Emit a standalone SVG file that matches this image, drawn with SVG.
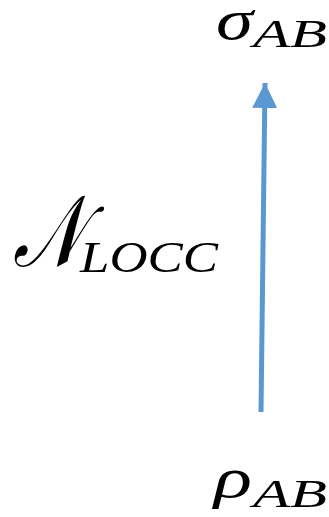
<svg xmlns="http://www.w3.org/2000/svg" width="329" height="517" viewBox="0 0 329 517">
<style>
.t{font-family:"Liberation Serif","DejaVu Serif",serif;font-style:italic;fill:#000}
.big{font-size:56px}
.sub{font-size:39px}
.conn{stroke:#5b98d2;stroke-width:5;fill:none}
</style>
<defs>
<marker id="ah" viewBox="0 0 10 10" refX="10" refY="5" markerWidth="5" markerHeight="5" orient="auto" markerUnits="strokeWidth">
<path d="M0,0 L10,5 L0,10 z" fill="#5b98d2"/>
</marker>
</defs>
<rect width="329" height="517" fill="#fff"/>
<g id="connectors">
<line class="conn" x1="261" y1="412" x2="265" y2="83" marker-end="url(#ah)"/>
</g>
<g id="sigma">
<text class="t big" x="216" y="39" textLength="37" lengthAdjust="spacingAndGlyphs">σ</text>
<text class="t sub" x="253" y="47" textLength="74" lengthAdjust="spacingAndGlyphs">AB</text>
</g>
<g id="nlocc">
<text class="t" transform="translate(13,266) scale(0.74,1)" x="0" y="0" font-size="100" font-family="DejaVu Serif">𝒩</text>
<text class="t" x="80" y="272" font-size="44" textLength="138" lengthAdjust="spacingAndGlyphs">LOCC</text>
</g>
<g id="rho">
<text class="t big" x="214" y="497" textLength="38" lengthAdjust="spacingAndGlyphs">ρ</text>
<text class="t sub" x="253" y="507" textLength="74" lengthAdjust="spacingAndGlyphs">AB</text>
</g>
</svg>
